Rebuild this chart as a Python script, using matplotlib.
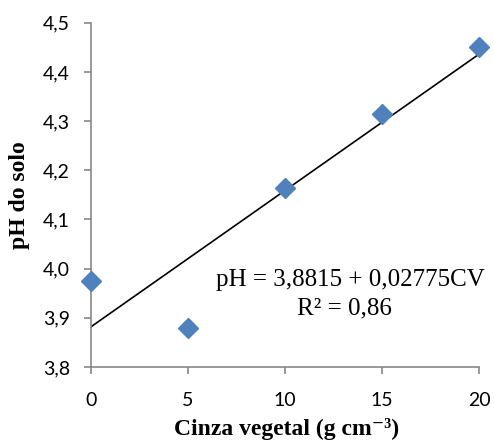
import numpy as np
import matplotlib
matplotlib.use("Agg")
import matplotlib.pyplot as plt

# dados
cinza = [0, 5, 10, 15, 20]
ph = [3.975, 3.88, 4.165, 4.315, 4.45]
a, b = 3.8815, 0.02775  # reta ajustada
xticks = [0, 5, 10, 15, 20]
yticks = [3.8, 3.9, 4.0, 4.1, 4.2, 4.3, 4.4, 4.5]

fig = plt.figure(figsize=(4.94, 4.48), dpi=100)
ax = fig.add_axes([0.184, 0.181, 0.786, 0.768])

xl = np.array([0, 20])
ax.plot(xl, a + b * xl, color="black", lw=1.2, zorder=2)
ax.plot(cinza, ph, ls="none", marker="D", ms=10.5, color="#4F81BD",
        clip_on=False, zorder=3)

ax.set_xlim(0, 20)
ax.set_ylim(3.8, 4.5)
ax.set_xticks(xticks)
ax.set_yticks(yticks)
ax.set_xticklabels([str(t) for t in xticks])
ax.set_yticklabels([f"{t:.1f}".replace(".", ",") for t in yticks])

for s in ["top", "right"]:
    ax.spines[s].set_visible(False)
for s in ["left", "bottom"]:
    ax.spines[s].set_color("#888888")
    ax.spines[s].set_linewidth(1.2)
ax.tick_params(colors="#888888", length=5, width=1.2, labelcolor="black",
               labelsize=14)
ax.tick_params(axis="y", pad=10)
ax.tick_params(axis="x", pad=13)
for lab in ax.get_xticklabels() + ax.get_yticklabels():
    lab.set_family("Lato")

ser = ["Liberation Serif", "DejaVu Serif"]
fig.text(0.581, 1 - 435 / 448, "Cinza vegetal (g cm⁻³)", family=ser,
         fontweight="bold", fontsize=17, ha="center", va="baseline")
fig.text(0.040, 0.565, "pH do solo", family=ser, fontweight="bold",
         fontsize=17, rotation=90, ha="center", va="center")

ax.text(13.35, 3.977, "pH = 3,8815 + 0,02775CV", family=ser, fontsize=18,
        ha="center", va="center")
ax.text(13.05, 3.918, "R² = 0,86", family=ser, fontsize=18,
        ha="center", va="center")

fig.savefig("out.png", dpi=100)
